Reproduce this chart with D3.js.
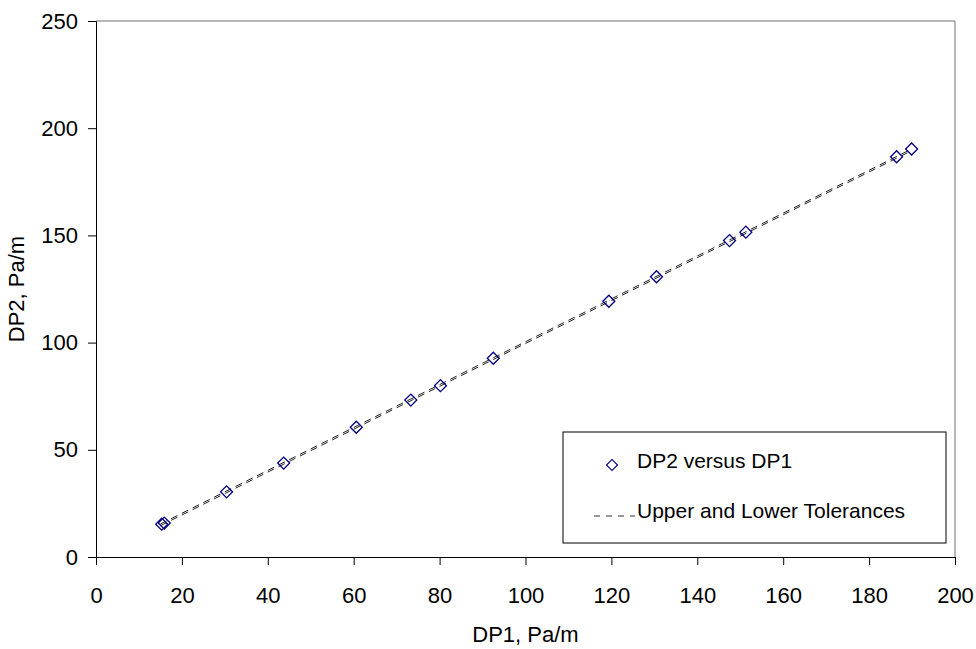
<!DOCTYPE html>
<html>
<head>
<meta charset="utf-8">
<script src="https://cdn.jsdelivr.net/npm/d3@7"></script>
<style>
  body { margin: 0; background: #fff; }
  text { font-family: "Liberation Sans", Arial, sans-serif; fill: #000; }
</style>
</head>
<body>
<svg id="chart" width="976" height="649"></svg>
<script>
// measured points, DP1 vs DP2 (Pa/m)
const dp1 = [15.3, 15.9, 30.4, 43.7, 60.6, 73.3, 80.2, 92.5, 119.4, 130.5, 147.5, 151.3, 186.4, 189.9];
const dp2 = [15.3, 15.8, 30.4, 43.8, 60.5, 73.2, 79.9, 92.7, 119.3, 130.7, 147.6, 151.5, 186.7, 190.3];

// tolerance band endpoints
const tolX = [15, 190];
const tolUpper = [15.4, 190.4];
const tolLower = [14.6, 189.6];

const xTicks = [0, 20, 40, 60, 80, 100, 120, 140, 160, 180, 200];
const yTicks = [0, 50, 100, 150, 200, 250];

var margin = {top: 21, right: 21, bottom: 92, left: 96},
    width = 976 - margin.left - margin.right,
    height = 649 - margin.top - margin.bottom;

var svg = d3.select("#chart")
  .append("g")
  .attr("transform", "translate(" + margin.left + "," + margin.top + ")");

var x = d3.scaleLinear().domain([0, 200]).range([0, width]);
var y = d3.scaleLinear().domain([0, 250]).range([height, 0]);

// grey frame on top and right
svg.append("line")
  .attr("x1", 0).attr("x2", width).attr("y1", 0).attr("y2", 0)
  .attr("stroke", "#a0a0a0").attr("stroke-width", 1.5);
svg.append("line")
  .attr("x1", width).attr("x2", width).attr("y1", 0).attr("y2", height)
  .attr("stroke", "#a0a0a0").attr("stroke-width", 1.5);

// X axis
var xAxis = svg.append("g")
  .attr("transform", "translate(0," + height + ")")
  .call(d3.axisBottom(x).tickValues(xTicks).tickSizeOuter(0).tickSize(8).tickPadding(22));
// Y axis
var yAxis = svg.append("g")
  .call(d3.axisLeft(y).tickValues(yTicks).tickSizeOuter(0).tickSize(8).tickPadding(10));

[xAxis, yAxis].forEach(function(a) {
  a.select(".domain").attr("stroke", "#000");
  a.selectAll(".tick line").attr("stroke", "#000");
  a.selectAll("text").style("font-size", "22px").attr("font-family", null);
});

// axis titles
svg.append("text")
  .attr("x", width / 2)
  .attr("y", height + 85)
  .style("text-anchor", "middle")
  .style("font-size", "22px")
  .text("DP1, Pa/m");

svg.append("text")
  .attr("transform", "translate(" + (-72) + "," + (height / 2) + ") rotate(-90)")
  .style("text-anchor", "middle")
  .style("font-size", "22px")
  .text("DP2, Pa/m");

// tolerance lines
var line = d3.line().x(d => x(d[0])).y(d => y(d[1]));
[tolUpper, tolLower].forEach(function(tol) {
  svg.append("path")
    .datum(tolX.map((v, i) => [v, tol[i]]))
    .attr("d", line)
    .attr("fill", "none")
    .attr("stroke", "#222")
    .attr("stroke-width", 1)
    .attr("stroke-dasharray", "7,5");
});

// diamonds
var diamond = d3.symbol().type(d3.symbolSquare).size(72);
svg.selectAll("mypoint")
  .data(dp1.map((v, i) => ({x: v, y: dp2[i]})))
  .enter()
  .append("path")
  .attr("d", diamond)
  .attr("transform", d => "translate(" + x(d.x) + "," + y(d.y) + ") rotate(45)")
  .attr("fill", "none")
  .attr("stroke", "#000080")
  .attr("stroke-width", 1.3);

// legend
var lg = svg.append("g").attr("transform", "translate(" + (563 - margin.left) + "," + (432 - margin.top) + ")");
lg.append("rect")
  .attr("x", 0).attr("y", 0).attr("width", 383).attr("height", 111)
  .attr("fill", "#fff").attr("stroke", "#000").attr("stroke-width", 1);
lg.append("path")
  .attr("d", d3.symbol().type(d3.symbolSquare).size(60))
  .attr("transform", "translate(49,33) rotate(45)")
  .attr("fill", "none").attr("stroke", "#000080").attr("stroke-width", 1.2);
lg.append("text").attr("x", 74).attr("y", 36).style("font-size", "21px").text("DP2 versus DP1");
lg.append("line")
  .attr("x1", 31).attr("x2", 72).attr("y1", 84).attr("y2", 84)
  .attr("stroke", "#333").attr("stroke-dasharray", "6,6");
lg.append("text").attr("x", 74).attr("y", 86).style("font-size", "21px").text("Upper and Lower Tolerances");
</script>
</body>
</html>
